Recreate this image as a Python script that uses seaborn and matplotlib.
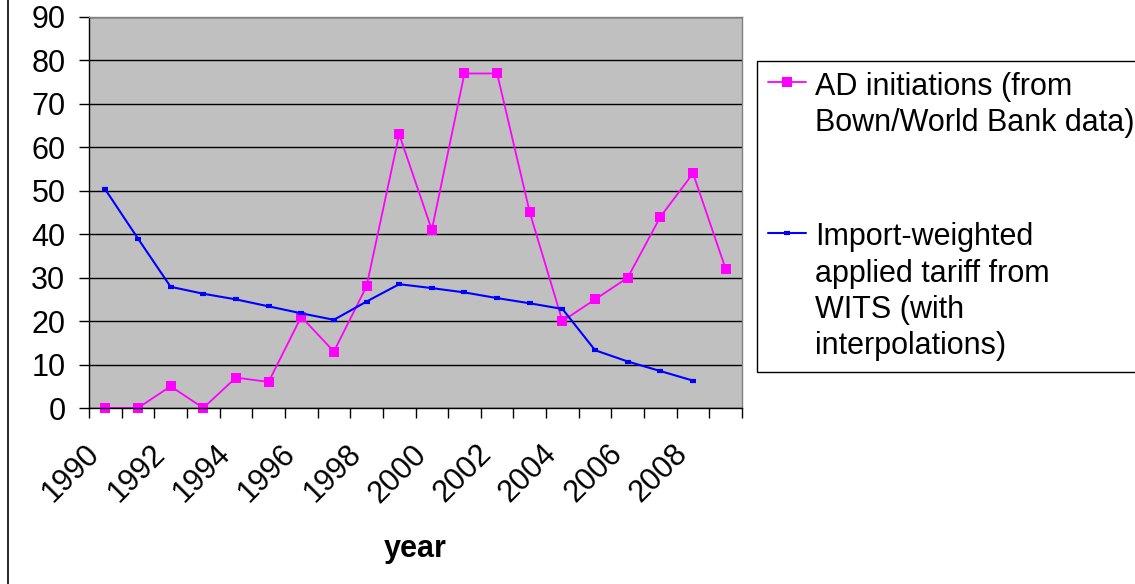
import numpy as np
import pandas as pd
import seaborn as sns
import matplotlib.pyplot as plt
import matplotlib.transforms as mtransforms
from matplotlib.lines import Line2D

# data
years = list(range(1990, 2010))
ad_initiations = [0, 0, 5, 0, 7, 6, 21, 13, 28, 63, 41, 77, 77, 45, 20, 25, 30, 44, 54, 32]
tariff = [50.3, 39.0, 27.9, 26.3, 25.0, 23.4, 21.8, 20.3, 24.5, 28.5,
          27.6, 26.6, 25.3, 24.1, 22.8, 13.3, 10.7, 8.5, 6.3, np.nan]
label_years = [str(y) for y in range(1990, 2010, 2)]
y_ticks = list(range(0, 91, 10))

ad_label = "AD initiations (from\nBown/World Bank data)"
tariff_label = "Import-weighted\napplied tariff from\nWITS (with\ninterpolations)"

df = pd.DataFrame({"year": years, "ad": ad_initiations, "tariff": tariff})

sns.set_style("white")
plt.rcParams['font.family'] = ['Liberation Sans', 'DejaVu Sans']
plt.rcParams['text.color'] = 'black'
plt.rcParams['xtick.color'] = 'black'
plt.rcParams['ytick.color'] = 'black'
plt.rcParams['axes.labelcolor'] = 'black'

fs = 22

fig = plt.figure(figsize=(11.35, 5.84), dpi=100)
ax = fig.add_axes([89 / 1135, 1 - 408 / 584, (742 - 89) / 1135, (408 - 17) / 584])
ax.set_facecolor('#C0C0C0')

sns.lineplot(data=df, x="year", y="ad", ax=ax, color='#FF00FF', linewidth=1.3,
             marker='s', markersize=7.5, markeredgewidth=0, label=ad_label, clip_on=False)
sns.lineplot(data=df.dropna(), x="year", y="tariff", ax=ax, color='#0000FF', linewidth=1.5,
             marker='_', markersize=4.5, markeredgewidth=3, markeredgecolor='#0000FF',
             label=tariff_label, clip_on=False)

# axes
ax.set_xlim(1989.5, 2009.5)
ax.set_ylim(0, 90)
ax.set_yticks(y_ticks)
ax.yaxis.grid(True, color='black', linewidth=1)
ax.set_axisbelow(True)
ax.tick_params(axis='y', labelsize=fs, length=7, width=1, pad=10, direction='out', left=True)

ax.set_xticks(range(1990, 2010, 2), labels=label_years)
ax.set_xticks(np.arange(1989.5, 2010, 1), minor=True)
ax.tick_params(axis='x', which='major', length=0, labelsize=fs, pad=30)
ax.tick_params(axis='x', which='minor', length=7, width=1, direction='out', bottom=True)
offset = mtransforms.ScaledTranslation(-10 / 100, 0, fig.dpi_scale_trans)
for lab in ax.get_xticklabels():
    lab.set_rotation(45)
    lab.set_ha('right')
    lab.set_va('center')
    lab.set_rotation_mode('anchor')
    lab.set_transform(lab.get_transform() + offset)

ax.set_xlabel("year", fontsize=fs, fontweight='bold', labelpad=18)
ax.set_ylabel("")

for side in ['left', 'bottom']:
    ax.spines[side].set_color('black')
    ax.spines[side].set_linewidth(1)
for side in ['top', 'right']:
    ax.spines[side].set_color('#808080')
    ax.spines[side].set_linewidth(1)

# legend
ax.get_legend().remove()
handles, labels = ax.get_legend_handles_labels()
leg = fig.legend(handles, labels, loc='upper left', bbox_to_anchor=(757 / 1135, 1 - 61 / 584),
                 fontsize=fs, frameon=True, fancybox=False, edgecolor='black', framealpha=1,
                 borderaxespad=0, borderpad=0.35, handlelength=1.25, handletextpad=0.3,
                 labelspacing=2.75)
leg.get_frame().set_linewidth(1)
for t in leg.get_texts():
    t.set_linespacing(1.28)
# put the line sample next to the first line of each label
for col in leg._legend_handle_box.get_children():
    for item in col.get_children():
        item.align = 'top'

# outer chart border (left edge visible)
fig.add_artist(Line2D([7.5 / 1135, 7.5 / 1135], [0, 1], color='black', linewidth=1.2))

plt.savefig('out.png', dpi=100)
